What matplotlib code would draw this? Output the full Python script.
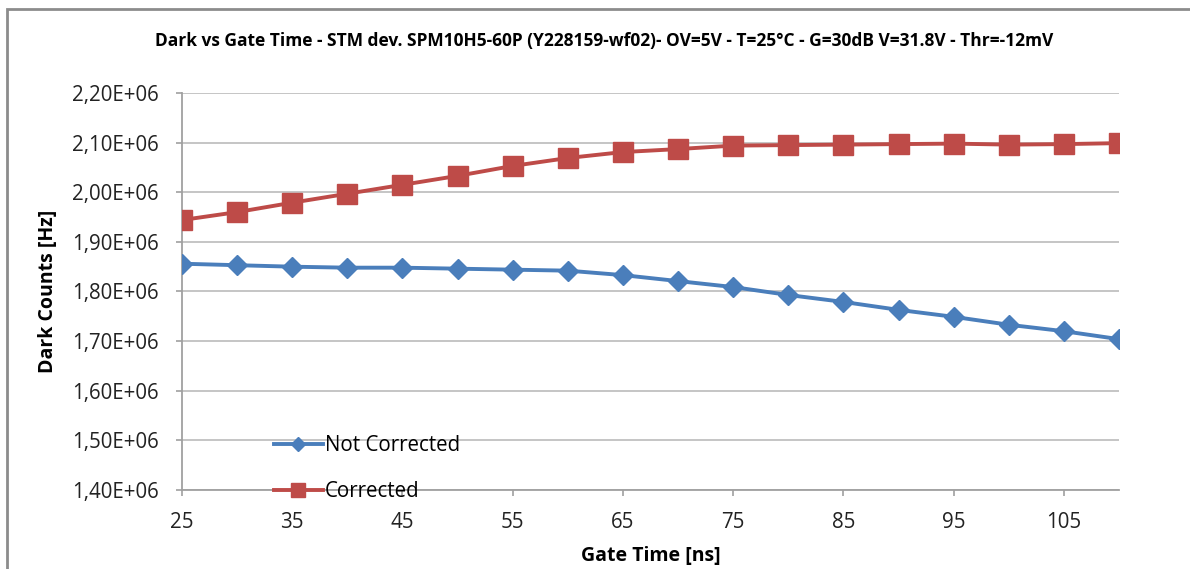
import matplotlib
matplotlib.use("Agg")
import matplotlib.pyplot as plt
from matplotlib.patches import Rectangle
from matplotlib.ticker import FuncFormatter, MultipleLocator

gate_time = [25, 30, 35, 40, 45, 50, 55, 60, 65, 70, 75, 80, 85, 90, 95, 100, 105, 110]
not_corrected = [1.856e6, 1.853e6, 1.850e6, 1.848e6, 1.848e6, 1.846e6, 1.844e6, 1.842e6, 1.833e6,
                 1.821e6, 1.809e6, 1.793e6, 1.779e6, 1.763e6, 1.749e6, 1.733e6, 1.720e6, 1.704e6]
corrected = [1.944e6, 1.960e6, 1.979e6, 1.997e6, 2.015e6, 2.033e6, 2.053e6, 2.069e6, 2.081e6,
             2.087e6, 2.094e6, 2.095e6, 2.096e6, 2.097e6, 2.098e6, 2.096e6, 2.097e6, 2.099e6]
x_ticks = [25, 35, 45, 55, 65, 75, 85, 95, 105]
title = "Dark vs Gate Time - STM dev. SPM10H5-60P (Y228159-wf02)- OV=5V - T=25°C - G=30dB V=31.8V - Thr=-12mV"

plt.rcParams['font.family'] = ['Open Sans', 'DejaVu Sans']

W, H = 1190, 569
fig = plt.figure(figsize=(W / 100, H / 100), dpi=100)
ax = fig.add_axes([182 / W, 1 - 490 / H, (1119 - 182) / W, (490 - 93) / H])

# chart border (cut at right/bottom)
fig.patches.append(Rectangle((7 / W, -0.1), 1.2, 1 - 9 / H + 0.1, transform=fig.transFigure,
                             fill=False, edgecolor='#8c8c8c', linewidth=2.0))

blue = '#4A7EBB'
red = '#BE4B48'
ax.plot(gate_time, not_corrected, color=blue, lw=2.8, marker='D', ms=10,
        markeredgecolor=blue, label='Not Corrected', zorder=3)
ax.plot(gate_time, corrected, color=red, lw=2.8, marker='s', ms=14,
        markeredgecolor=red, label='Corrected', zorder=3)

ax.set_xlim(25, 110)
ax.set_ylim(1.40e6, 2.20e6)
ax.set_xticks(x_ticks)
ax.yaxis.set_major_locator(MultipleLocator(0.1e6))
ax.yaxis.set_major_formatter(FuncFormatter(lambda v, p: ("%.2fE+06" % (v / 1e6)).replace('.', ',')))
ax.grid(axis='y', color='#c0c0c0', lw=1.3)
ax.set_axisbelow(True)
for s in ['top', 'right']:
    ax.spines[s].set_visible(False)
for s in ['left', 'bottom']:
    ax.spines[s].set_color('#a0a0a0')
    ax.spines[s].set_linewidth(1.3)
ax.tick_params(axis='both', colors='#a0a0a0', labelcolor='#222222', labelsize=14.8, length=4.5, width=1.2)
ax.tick_params(axis='x', pad=11)
ax.tick_params(axis='y', pad=12)

ax.set_xlabel('Gate Time [ns]', fontsize=14, fontweight='bold', labelpad=10)
ax.set_ylabel('Dark Counts [Hz]', fontsize=14, fontweight='bold', labelpad=10)
fig.text(604 / W, 1 - 41 / H, title, ha='center', va='center', fontsize=12.5, fontweight='bold')

leg = ax.legend(loc='upper left', bbox_to_anchor=(0.078, 0.185), frameon=False, fontsize=14.8,
                handlelength=2.4, handletextpad=0.1, labelspacing=1.2, markerscale=0.7)

fig.savefig('out.png', dpi=100, facecolor='white')
